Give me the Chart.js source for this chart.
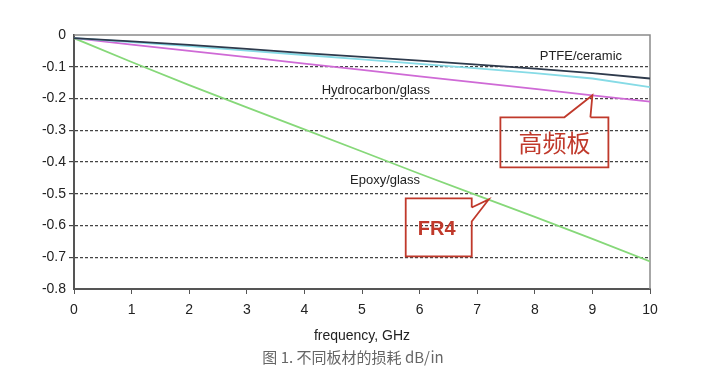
<!DOCTYPE html>
<html>
<head>
<meta charset="utf-8">
<script src="https://cdn.jsdelivr.net/npm/chart.js@4/dist/chart.umd.min.js"></script>
<style>
    html, body { margin: 0; padding: 0; background: #fff; }
    #wrap { width: 706px; height: 369px; }
</style>
</head>
<body>
<div id="wrap"><canvas id="loss-chart"></canvas></div>
<script>
// frequency in GHz
const frequency = [0, 1, 2, 3, 4, 5, 6, 7, 8, 9, 10];

// loss in dB/in
const ptfeCeramic = [-0.01, -0.02, -0.031, -0.044, -0.057, -0.069, -0.081, -0.093, -0.106, -0.12, -0.137];
const ptfeCyan = [-0.01, -0.022, -0.035, -0.049, -0.063, -0.077, -0.091, -0.105, -0.12, -0.137, -0.164];
const hydrocarbonGlass = [-0.01, -0.03, -0.05, -0.07, -0.09, -0.11, -0.13, -0.15, -0.17, -0.19, -0.21];
const epoxyGlass = [-0.01, -0.085, -0.158, -0.228, -0.297, -0.367, -0.437, -0.505, -0.573, -0.642, -0.713];

const yTicks = [0, -0.1, -0.2, -0.3, -0.4, -0.5, -0.6, -0.7, -0.8];

const seriesNames = ["PTFE/ceramic", "PTFE (cyan)", "Hydrocarbon/glass", "Epoxy/glass"];
const seriesColors = ["#2e3a4c", "#86dbe6", "#cf6ad6", "#86d879"];

const canvas = document.querySelector("#loss-chart");

function toPoints(values) {
    let points = [];
    for (let i = 0; i < frequency.length; i++)
        points.push({ x: frequency[i], y: values[i] });
    return points;
}

function makeDataset(i, values) {
    return {
        label: seriesNames[i],
        data: toPoints(values),
        borderColor: seriesColors[i],
        borderWidth: 1.8,
        pointRadius: 0,
        tension: 0,
        fill: false
    };
}

const decorations = {
    id: "decorations",
    beforeDatasetsDraw(chart) {
        const { ctx, chartArea: a } = chart;
        ctx.save();
        ctx.strokeStyle = "#8a8a8a";
        ctx.lineWidth = 1.5;
        ctx.beginPath();
        ctx.moveTo(a.left, a.top);
        ctx.lineTo(a.right, a.top);
        ctx.lineTo(a.right, a.bottom);
        ctx.stroke();
        ctx.restore();
    },
    afterDatasetsDraw(chart) {
        const { ctx, chartArea: a, scales } = chart;
        const px = v => scales.x.getPixelForValue(v);
        const py = v => scales.y.getPixelForValue(v);

        ctx.save();
        // series labels
        ctx.font = "13px 'Liberation Sans', Arial, sans-serif";
        ctx.fillStyle = "#222";
        ctx.textAlign = "center";
        ctx.textBaseline = "middle";
        ctx.fillText("PTFE/ceramic", px(8.8), py(-0.068));
        ctx.fillText("Hydrocarbon/glass", px(5.24), py(-0.175));
        ctx.fillText("Epoxy/glass", px(5.4), py(-0.457));

        // callout for high frequency board
        ctx.strokeStyle = "#c0392b";
        ctx.lineWidth = 1.8;
        let tx = px(9), ty = py(-0.19);
        let l = tx - 92, r = tx + 16, t = ty + 22, b = ty + 72;
        ctx.beginPath();
        ctx.moveTo(tx - 2, t);
        ctx.lineTo(r, t);
        ctx.lineTo(r, b);
        ctx.lineTo(l, b);
        ctx.lineTo(l, t);
        ctx.lineTo(tx - 28, t);
        ctx.lineTo(tx, ty);
        ctx.lineTo(tx - 2, t);
        ctx.stroke();
        ctx.fillStyle = "#c0392b";
        ctx.font = "24px 'Noto Sans CJK SC', sans-serif";
        ctx.fillText("高频板", (l + r) / 2, (t + b) / 2 + 1);

        // callout for FR4
        tx = px(7.2);
        ty = py(-0.518);
        l = tx - 83; r = tx - 17; t = ty - 1; b = ty + 57;
        ctx.beginPath();
        ctx.moveTo(r, t + 9);
        ctx.lineTo(r, t);
        ctx.lineTo(l, t);
        ctx.lineTo(l, b);
        ctx.lineTo(r, b);
        ctx.lineTo(r, t + 23);
        ctx.lineTo(tx, ty);
        ctx.lineTo(r, t + 9);
        ctx.stroke();
        ctx.font = "bold 20px 'Liberation Sans', Arial, sans-serif";
        ctx.fillText("FR4", (l + r) / 2 - 2, (t + b) / 2 + 2);

        // axis title and caption
        ctx.fillStyle = "#222";
        ctx.font = "14px 'Liberation Sans', Arial, sans-serif";
        ctx.fillText("frequency, GHz", (a.left + a.right) / 2, a.bottom + 47);
        ctx.fillStyle = "#666";
        ctx.font = "15px 'Noto Sans CJK SC', sans-serif";
        ctx.fillText("图 1. 不同板材的损耗 dB/in", (a.left + a.right) / 2 - 9, a.bottom + 68);
        ctx.restore();
    }
};

new Chart(canvas, {
    type: "line",
    data: {
        datasets: [
            makeDataset(0, ptfeCeramic),
            makeDataset(1, ptfeCyan),
            makeDataset(2, hydrocarbonGlass),
            makeDataset(3, epoxyGlass)
        ]
    },
    options: {
        responsive: true,
        maintainAspectRatio: false,
        animation: false,
        layout: { padding: { top: 35, right: 56, left: 0, bottom: 0 } },
        plugins: {
            legend: { display: false },
            tooltip: { enabled: false }
        },
        scales: {
            x: {
                type: "linear",
                min: 0,
                max: 10,
                afterFit(scale) { scale.height = 80; },
                ticks: {
                    stepSize: 1,
                    padding: 8,
                    color: "#222",
                    font: { family: "'Liberation Sans', Arial, sans-serif", size: 14 }
                },
                grid: {
                    drawOnChartArea: false,
                    drawTicks: true,
                    tickLength: 5,
                    color: "#555"
                },
                border: { color: "#555", width: 2 }
            },
            y: {
                min: -0.8,
                max: 0,
                afterFit(scale) { scale.width = 74; },
                afterBuildTicks(scale) {
                    scale.ticks = yTicks.map(v => ({ value: v }));
                },
                ticks: {
                    padding: 3,
                    color: "#222",
                    font: { family: "'Liberation Sans', Arial, sans-serif", size: 14 },
                    callback: v => (Math.abs(v) < 1e-9 ? "0" : v.toFixed(1))
                },
                grid: {
                    tickLength: 5,
                    lineWidth: 1.2,
                    color: ctx => (ctx.tick && (ctx.tick.value === 0 || ctx.tick.value === -0.8) ? "rgba(0,0,0,0)" : "#444")
                },
                border: { color: "#555", width: 2, dash: [3, 2] }
            }
        }
    },
    plugins: [decorations]
});
</script>
</body>
</html>
